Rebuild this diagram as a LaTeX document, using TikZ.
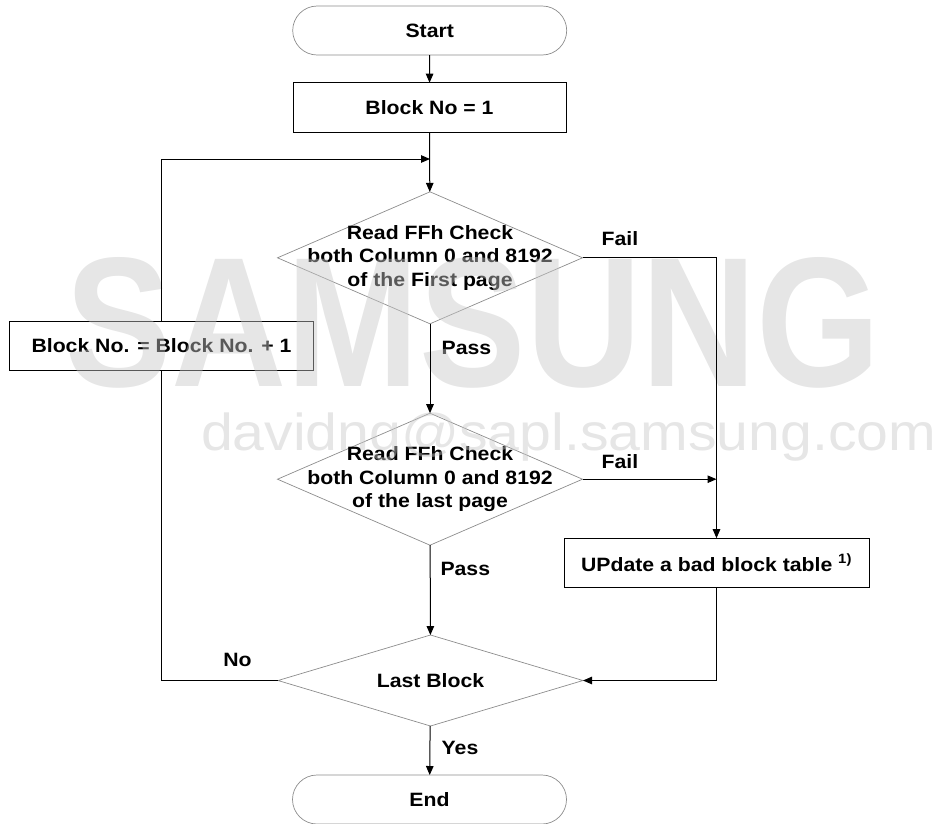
\documentclass[tikz,border=0pt]{standalone}
\usepackage{fontspec}
\setmainfont{Liberation Sans}[FakeStretch=1.1]
\usetikzlibrary{shapes.geometric,shapes.misc,arrows.meta}
\definecolor{wmgray}{gray}{0.78}
\definecolor{edgegray}{gray}{0.55}
\begin{document}
\begin{tikzpicture}[x=1pt,y=-1pt,
  every node/.style={font=\fontsize{19.3}{23.3}\selectfont\bfseries,outer sep=0pt},
  procbox/.style={draw=black,line width=1pt,rectangle,inner sep=0pt,minimum width=#1,minimum height=49pt},
  term/.style={draw=edgegray,line width=0.7pt,rounded rectangle,inner sep=0pt,minimum width=274pt,minimum height=49pt},
  decision/.style={draw=edgegray,line width=0.7pt,diamond,inner sep=0pt,minimum width=305pt,minimum height=#1},
  dtext/.style={align=center,inner sep=0pt},
  conn/.style={line width=1pt,-{Triangle[length=9pt,width=7.5pt]}},
  plainconn/.style={line width=1pt},
  tag/.style={anchor=base west,inner sep=0pt}
]
\useasboundingbox (0,0) rectangle (945,823);

% flowchart boxes
\node[term] (start) at (429.7,30.5) {Start};
\node[procbox=273pt,minimum height=50pt] (init) at (429.5,107.7) {Block No = 1};
\node[decision=132pt,label={[dtext]center:{Read FFh Check\\both Column 0 and 8192\\of the First page}}] (first) at (430,257.8) {};
\node[procbox=304pt,minimum height=48.5pt] (inc) at (161.5,345.8) {Block No. = Block No. + 1};
\node[decision=132pt,label={[dtext]center:{Read FFh Check\\both Column 0 and 8192\\of the last page}}] (last) at (430,479.2) {};
\node[procbox=305pt] (upd) at (716.5,562.7) {UPdate a bad block table \textsuperscript{1)}};
\node[decision=91pt,label={[dtext]center:{Last Block}}] (lastblk) at (430.5,680.5) {};
\node[term] (end) at (429.5,799.5) {End};

% branch labels
\node[tag] (fail1) at (601.7,245) {Fail};
\node[tag] (pass1) at (441.7,354) {Pass};
\node[tag] (fail2) at (601.7,468) {Fail};
\node[tag] (pass2) at (440.5,575) {Pass};
\node[tag] (no) at (223.3,666.7) {No};
\node[tag] (yes) at (441.7,754) {Yes};

% watermark
\node[anchor=base west,inner sep=0pt,text=wmgray,opacity=0.45] (wmark) at (65,386)
  {\resizebox{816pt}{129pt}{\bfseries SAMSUNG}};
\node[anchor=base west,inner sep=0pt,text=wmgray,opacity=0.45,font=\fontsize{52}{52}\selectfont\mdseries] (wmail) at (201,450)
  {davidng@sapl.samsung.com};

% connectors
\coordinate (merge) at (430,159);
\coordinate (join) at (upd.north |- last.east);
\draw[conn] (start) -- (init);
\draw[conn] (init) -- (first);
\draw[conn] (inc.north) |- (merge);
\draw[conn] (first.east) -| (upd.north);
\draw[conn] (first) -- (last);
\draw[conn] (last.east) -- (join);
\draw[conn] (last) -- (lastblk);
\draw[conn] (upd.south) |- (lastblk.east);
\draw[plainconn] (lastblk.west) -| (inc.south);
\draw[conn] (lastblk) -- (end);
\end{tikzpicture}
\end{document}
